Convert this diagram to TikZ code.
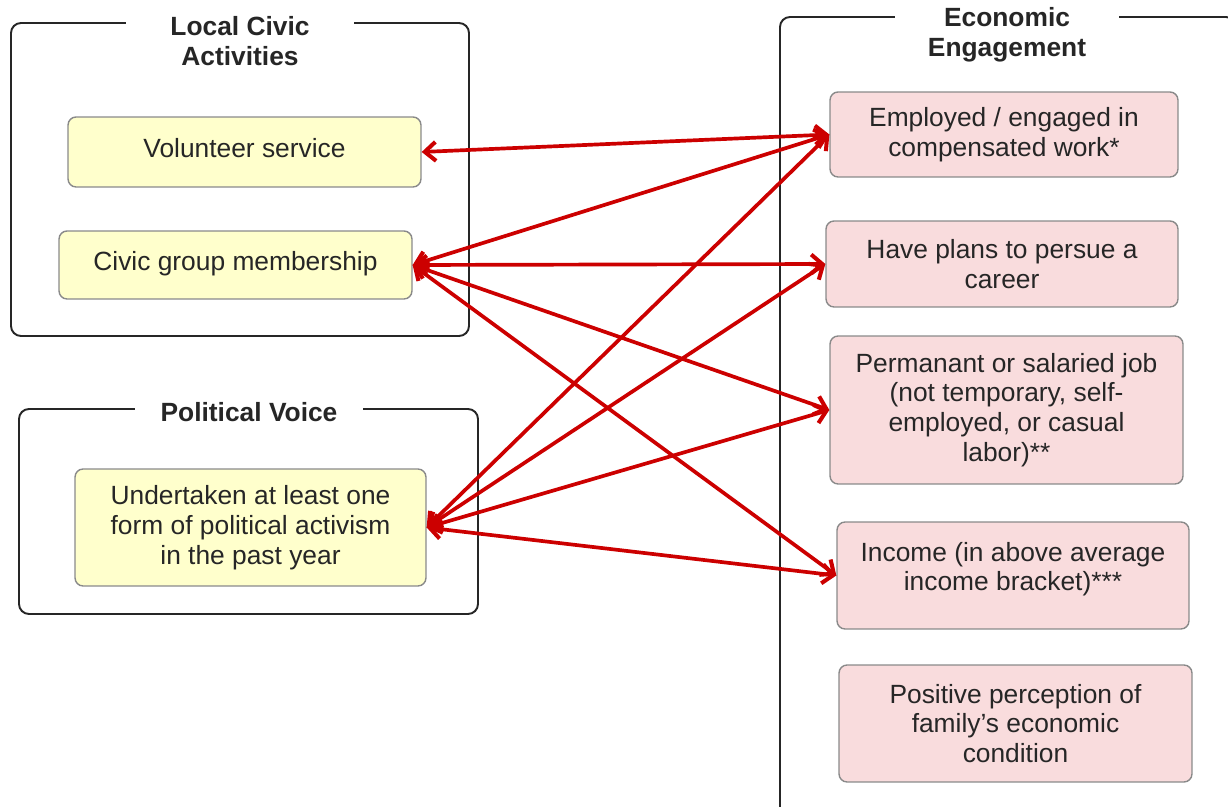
\documentclass[tikz,border=0pt]{standalone}
\usepackage{fontspec}
\setmainfont{Liberation Sans}
\usepackage{tikz}
\usetikzlibrary{arrows.meta,positioning}

\definecolor{linkred}{HTML}{CC0000}
\definecolor{civicfill}{HTML}{FFFFCC}
\definecolor{econfill}{HTML}{F9DCDD}
\definecolor{boxline}{HTML}{8A8A8A}
\definecolor{textgray}{HTML}{262626}

\begin{document}
\begin{tikzpicture}[x=0.02cm, y=-0.02cm, font=\fontsize{15pt}{17pt}\selectfont, text=textgray]
		\tikzstyle{Group}	= [draw=textgray, line width=1.1pt, rounded corners=0.2cm]
		\tikzstyle{Title}	= [fill=white, font=\fontsize{15pt}{17pt}\selectfont\bfseries, align=center, inner ysep=0pt]
		\tikzstyle{Item}	= [rounded corners=0.16cm, draw=boxline, line width=0.8pt, align=center, inner sep=0pt]
		\tikzstyle{Civic}	= [Item, fill=civicfill]
		\tikzstyle{Econ}	= [Item, fill=econfill]
		\tikzstyle{Link}	= [linkred, line width=2.1pt, {Straight Barb[length=0.22cm, width=0.38cm, line width=2.3pt]}-{Straight Barb[length=0.22cm, width=0.38cm, line width=2.3pt]}]

		\clip (0,0) rectangle (1228,807);

		% group frames
		\draw [Group] (11,23) rectangle (469,336);
		\draw [Group] (19,409) rectangle (478,614);
		\draw [Group] (780,17) rectangle (1236,818);

		\node (t1) at (240,41) [Title, minimum width=4.56cm] {Local Civic\\Activities};
		\node (t2) at (249,412) [Title, minimum width=4.56cm] {Political Voice};
		\node (t3) at (1007,35) [Title, minimum width=4.5cm] {Economic\\Engagement};

		% civic and political items
		\node (c1) at (244.5,152) [Civic, minimum width=7.06cm, minimum height=1.4cm, text depth=0.18cm] {Volunteer service};
		\node (c2) at (235.5,265) [Civic, minimum width=7.06cm, minimum height=1.36cm, text depth=0.18cm] {Civic group membership};
		\node (p1) at (250.5,527.5) [Civic, minimum width=7.02cm, minimum height=2.34cm] {Undertaken at least one\\form of political activism\\in the past year};

		% economic items
		\node (e1) at (1004,134.5) [Econ, minimum width=6.96cm, minimum height=1.7cm] {Employed / engaged in\\compensated work*};
		\node (e2) at (1002,264) [Econ, minimum width=7.04cm, minimum height=1.72cm] {Have plans to persue a\\career};
		\node (e3) at (1006.5,410) [Econ, minimum width=7.06cm, minimum height=2.96cm] {Permanant or salaried job\\(not temporary, self-\\employed, or casual\\labor)**};
		\node (e4) at (1013,575.5) [Econ, minimum width=7.04cm, minimum height=2.14cm, text depth=0.36cm] {Income (in above average\\income bracket)***};
		\node (e5) at (1015.5,723.5) [Econ, minimum width=7.06cm, minimum height=2.34cm] {Positive perception of\\family's economic\\condition};

		\draw (c1.east) to (e1.west) [Link];
		\draw (c2.east) to (e1.west) [Link];
		\draw (c2.east) to (e2.west) [Link];
		\draw (c2.east) to (e3.west) [Link];
		\draw (c2.east) to (e4.west) [Link];
		\draw (p1.east) to (e1.west) [Link];
		\draw (p1.east) to (e2.west) [Link];
		\draw (p1.east) to (e3.west) [Link];
		\draw (p1.east) to (e4.west) [Link];
	\end{tikzpicture}
\end{document}
